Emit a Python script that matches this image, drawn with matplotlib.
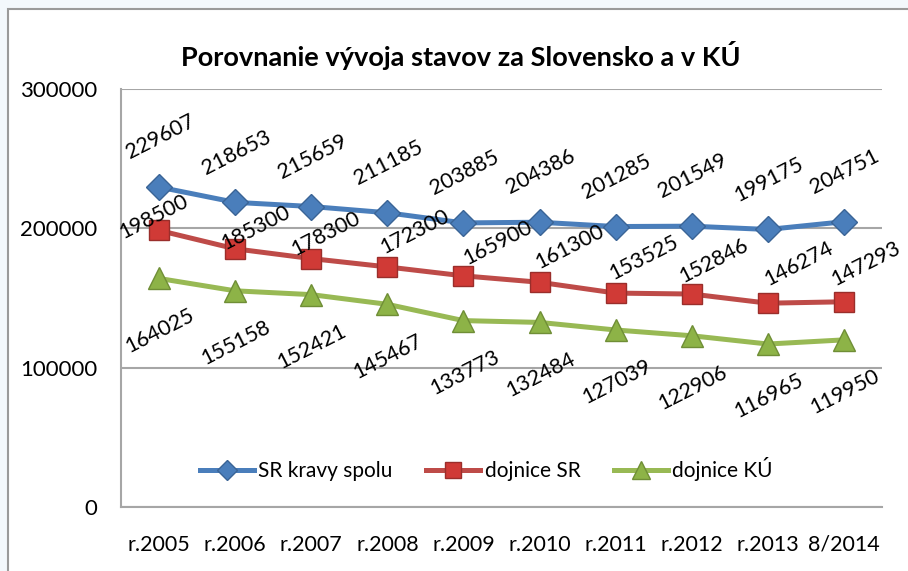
import matplotlib.pyplot as plt
from matplotlib.patches import Rectangle

plt.rcParams['font.family'] = ['Lato', 'DejaVu Sans']

categories = ["r.2005", "r.2006", "r.2007", "r.2008", "r.2009", "r.2010",
              "r.2011", "r.2012", "r.2013", "8/2014"]
sr_kravy = [229607, 218653, 215659, 211185, 203885, 204386, 201285, 201549, 199175, 204751]
dojnice_sr = [198500, 185300, 178300, 172300, 165900, 161300, 153525, 152846, 146274, 147293]
dojnice_ku = [164025, 155158, 152421, 145467, 133773, 132484, 127039, 122906, 116965, 119950]

# label offsets in pixels (x right, y up)
red_off = [(-5, 14), (21, 21), (15, 25), (27, 35), (34, 33), (30, 35),
           (28, 35), (22, 33), (31, 39), (22, 38)]

fig = plt.figure(figsize=(9.08, 5.71), dpi=100)
fig.patch.set_facecolor('#F3F8FC')
fig.patches.append(Rectangle((8 / 908, -0.05), 1.1, 1 - 9 / 571 + 0.05,
                             transform=fig.transFigure, facecolor='white',
                             edgecolor='#9A9A9A', linewidth=1.5, zorder=-10))

ax = fig.add_axes([121 / 908, 1 - 507 / 571, 761 / 908, 418 / 571])
ax.set_facecolor('none')
x = list(range(len(categories)))

ax.plot(x, sr_kravy, color='#4A7EBB', lw=3.6, marker='D', ms=13,
        mfc='#4A7EBB', mec='#3A6496', label='SR kravy spolu', zorder=3)
ax.plot(x, dojnice_sr, color='#BE4B48', lw=3.6, marker='s', ms=15,
        mfc='#D03A36', mec='#9A2E2B', label='dojnice SR', zorder=3)
ax.plot(x, dojnice_ku, color='#98B954', lw=3.6, marker='^', ms=16,
        mfc='#8DB347', mec='#6F8E36', label='dojnice KÚ', zorder=3)

k = 0.72
for i in x:
    ax.annotate(str(sr_kravy[i]), (i, sr_kravy[i]), xytext=(1 * k, 50 * k),
                textcoords='offset points', ha='center', va='center',
                rotation=27, fontsize=15.5, color='black')
    ax.annotate(str(dojnice_sr[i]), (i, dojnice_sr[i]),
                xytext=(red_off[i][0] * k, red_off[i][1] * k),
                textcoords='offset points', ha='center', va='center',
                rotation=27, fontsize=15.5, color='black', zorder=4)
    ax.annotate(str(dojnice_ku[i]), (i, dojnice_ku[i]), xytext=(1 * k, -52 * k),
                textcoords='offset points', ha='center', va='center',
                rotation=27, fontsize=15.5, color='black')

ax.set_xlim(-0.5, len(categories) - 0.5)
ax.set_ylim(0, 300000)
ax.set_yticks([0, 100000, 200000, 300000])
ax.set_yticklabels(['0', '100000', '200000', '300000'])
ax.set_xticks(x)
ax.set_xticklabels(categories)
ax.tick_params(axis='y', length=0, pad=17, labelsize=16)
ax.tick_params(axis='x', length=0, pad=20, labelsize=15.5)
ax.yaxis.grid(True, color='#A6A6A6', lw=1.5)
ax.set_axisbelow(True)
for s in ['top', 'right']:
    ax.spines[s].set_visible(False)
ax.spines['left'].set_color('#A6A6A6')
ax.spines['left'].set_linewidth(1.5)
ax.spines['bottom'].set_color('#A6A6A6')
ax.spines['bottom'].set_linewidth(1.5)

ax.legend(loc='center', bbox_to_anchor=(0.48, 0.09), ncol=3, frameon=False,
          fontsize=15, handlelength=2.6, columnspacing=1.6, handletextpad=0.2,
          markerscale=0.8)

fig.text(461 / 908, 1 - 55 / 571, 'Porovnanie vývoja stavov za Slovensko a v KÚ',
         ha='center', va='center', fontsize=19.5, fontweight='bold')

fig.savefig('out.png', dpi=100, facecolor=fig.get_facecolor())
